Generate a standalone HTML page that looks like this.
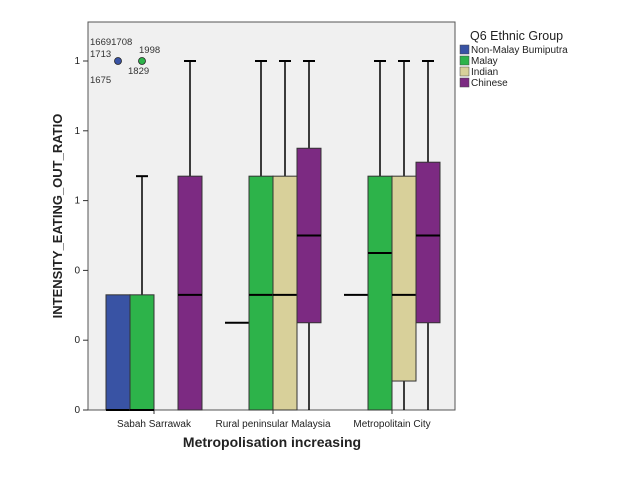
<!DOCTYPE html>
<html><head><meta charset="utf-8"><style>
body{margin:0;background:#fff;}
svg{display:block;font-family:"Liberation Sans",sans-serif;}
</style></head><body>
<svg id="chart" width="638" height="479">
<rect x="88" y="22" width="367" height="388" fill="#f0f0f0" stroke="#555" stroke-width="1"/>
<g id="marks"></g>
<text x="62" y="216" transform="rotate(-90 62 216)" text-anchor="middle" font-size="13" font-weight="bold" fill="#222">INTENSITY_EATING_OUT_RATIO</text>
<text x="272" y="447" text-anchor="middle" font-size="14" font-weight="bold" fill="#222">Metropolisation increasing</text>
<g font-size="10" fill="#222">
<text x="470" y="40" font-size="12.5">Q6 Ethnic Group</text>
<g><rect x="460" y="45" width="9" height="9" fill="#3953a4" stroke="#444" stroke-width="0.5"/><text x="471" y="53">Non-Malay Bumiputra</text></g>
<g><rect x="460" y="56" width="9" height="9" fill="#2db34a" stroke="#444" stroke-width="0.5"/><text x="471" y="64">Malay</text></g>
<g><rect x="460" y="67" width="9" height="9" fill="#d8d09a" stroke="#444" stroke-width="0.5"/><text x="471" y="75">Indian</text></g>
<g><rect x="460" y="78" width="9" height="9" fill="#7c2a82" stroke="#444" stroke-width="0.5"/><text x="471" y="86">Chinese</text></g>
</g>
</svg>
<script>
const categories=["Sabah Sarrawak","Rural peninsular Malaysia","Metropolitain City"];
const groups=["Non-Malay Bumiputra","Malay","Indian","Chinese"];
const colors=["#3953a4","#2db34a","#d8d09a","#7c2a82"];
const yTicks=[0,0.2,0.4,0.6,0.8,1.0];
const yTickLabels=["0","0","0","1","1","1"];
// [min,q1,median,q3,max] per category per group; null = no data
const statsSabah=[[0,0,0,0.33,0.33],[0,0,0,0.33,0.67],null,[0,0,0.33,0.67,1]];
const statsRural=[[0.25,0.25,0.25,0.25,0.25],[0,0,0.33,0.67,1],[0,0,0.33,0.67,1],[0,0.25,0.5,0.75,1]];
const statsMetro=[[0.33,0.33,0.33,0.33,0.33],[0,0,0.45,0.67,1],[0,0.083,0.33,0.67,1],[0,0.25,0.5,0.71,1]];
const allStats=[statsSabah,statsRural,statsMetro];
const outliers=[{cat:0,grp:0,v:1.0,labels:["16691708","1713","1675"]},{cat:0,grp:1,v:1.0,labels:["1998","1829"]}];
const svg=document.getElementById('chart'),g=document.getElementById('marks');
const NS="http://www.w3.org/2000/svg";
const y=v=>410-v*349;
const groupCenter=[154,273,392];
const bw=24;
const x=(c,k)=>groupCenter[c]+(k-1.5)*bw;
function mk(t,a){const e=document.createElementNS(NS,t);for(const k in a)e.setAttribute(k,a[k]);g.appendChild(e);return e;}
yTicks.forEach((t,i)=>{
 const l=mk('line',{x1:83,x2:88,y1:y(t),y2:y(t),stroke:'#333'});
 
 
 const tx=mk('text',{x:80,y:y(t)+3,'text-anchor':'end','font-size':10,fill:'#222'});tx.textContent=yTickLabels[i];
 
 
});
categories.forEach((c,i)=>{
 const t=mk('text',{x:groupCenter[i],y:427,'text-anchor':'middle','font-size':10,fill:'#222'});t.textContent=c;
 
 
 mk('line',{x1:groupCenter[i],x2:groupCenter[i],y1:410,y2:414,stroke:'#333'});
});
allStats.forEach((st,ci)=>st.forEach((s,k)=>{
 if(!s)return;
 const cx=x(ci,k);
 const w1=mk('line',{x1:cx,x2:cx,y1:y(s[0]),y2:y(s[4]),stroke:'#000','stroke-width':1.5});
 
 
 [s[0],s[4]].forEach(v=>{if(v!==s[1]&&v!==s[3]&&v>0)mk('line',{x1:cx-6,x2:cx+6,y1:y(v),y2:y(v),stroke:'#000','stroke-width':2});});
 if(s[3]>s[1]){
  const r=mk('rect',{x:cx-bw/2,y:y(s[3]),width:bw,height:y(s[1])-y(s[3]),fill:colors[k],stroke:'#333','stroke-width':1});
  
  
 }
 const m=mk('line',{x1:cx-bw/2,x2:cx+bw/2,y1:y(s[2]),y2:y(s[2]),stroke:'#000','stroke-width':2});
 
 
}));
outliers.forEach(o=>{
 const cx=x(o.cat,o.grp),cy=y(o.v);
 const c=mk('circle',{cx:cx,cy:cy,r:3.5,fill:colors[o.grp],stroke:'#222','stroke-width':0.8});
 
 
 const pos=o.grp===0?[[-28,-16],[-28,-4],[-28,22]]:[[-3,-8],[-14,13]];
 o.labels.forEach((lb,i)=>{const t=mk('text',{x:cx+pos[i][0],y:cy+pos[i][1],'font-size':9.5,fill:'#333'});t.textContent=lb;
  
  });
});
</script>
</body></html>
